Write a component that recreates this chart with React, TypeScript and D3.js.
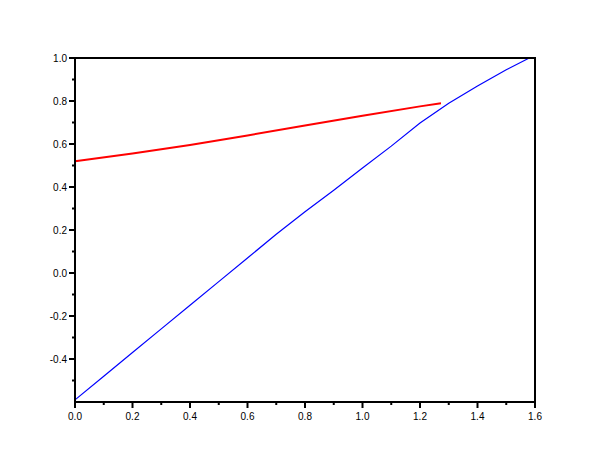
import React from "react";
import * as d3 from "d3";

const blueX = [0, 0.1, 0.2, 0.3, 0.4, 0.5, 0.6, 0.7, 0.8, 0.9, 1.0, 1.1, 1.2, 1.3, 1.4, 1.5, 1.58];
const blueY = [-0.59, -0.48, -0.37, -0.26, -0.15, -0.04, 0.07, 0.18, 0.285, 0.385, 0.488, 0.59, 0.698, 0.79, 0.87, 0.945, 1.0];

const redX = [0, 0.2, 0.4, 0.6, 0.8, 1.0, 1.2, 1.273];
const redY = [0.52, 0.556, 0.595, 0.64, 0.686, 0.731, 0.775, 0.79];

const xMajor = [0, 0.2, 0.4, 0.6, 0.8, 1.0, 1.2, 1.4, 1.6];
const xMinor = [0.1, 0.3, 0.5, 0.7, 0.9, 1.1, 1.3, 1.5];
const yMajor = [-0.4, -0.2, 0.0, 0.2, 0.4, 0.6, 0.8, 1.0];
const yMinor = [-0.5, -0.3, -0.1, 0.1, 0.3, 0.5, 0.7, 0.9];

const W = 610;
const H = 460;
const left = 75;
const right = 535;
const top = 58;
const bottom = 402;

export default function App() {
  const x = d3.scaleLinear().domain([0, 1.6]).range([left, right]);
  const y = d3.scaleLinear().domain([-0.6, 1.0]).range([bottom, top]);

  const line = d3
    .line<[number, number]>()
    .x((d) => x(d[0]))
    .y((d) => y(d[1]));

  const blue = line(blueX.map((v, i) => [v, blueY[i]] as [number, number])) || "";
  const red = line(redX.map((v, i) => [v, redY[i]] as [number, number])) || "";

  const font = "'Liberation Sans', Arial, sans-serif";

  return (
    <svg
      width={W}
      height={H}
      style={{ position: "absolute", left: 0, top: 0, background: "#fff" }}
    >
      <rect x={0} y={0} width={W} height={H} fill="#fff" />
      <path d={red} fill="none" stroke="#ff0000" strokeWidth={2} />
      <path d={blue} fill="none" stroke="#0000ff" strokeWidth={1.2} />
      <rect
        x={left}
        y={top}
        width={right - left}
        height={bottom - top}
        fill="none"
        stroke="#000"
        strokeWidth={2}
      />
      {xMajor.map((v) => (
        <g key={"xM" + v}>
          <line x1={x(v)} x2={x(v)} y1={bottom} y2={bottom + 6} stroke="#000" strokeWidth={2} />
          <text
            x={x(v)}
            y={bottom + 18}
            textAnchor="middle"
            fontFamily={font}
            fontSize={10}
            fill="#000"
          >
            {v.toFixed(1)}
          </text>
        </g>
      ))}
      {xMinor.map((v) => (
        <line key={"xm" + v} x1={x(v)} x2={x(v)} y1={bottom} y2={bottom + 3} stroke="#000" strokeWidth={2} />
      ))}
      {yMajor.map((v) => (
        <g key={"yM" + v}>
          <line x1={left - 6} x2={left} y1={y(v)} y2={y(v)} stroke="#000" strokeWidth={2} />
          <text
            x={left - 8}
            y={y(v) + 3.5}
            textAnchor="end"
            fontFamily={font}
            fontSize={10}
            fill="#000"
          >
            {v.toFixed(1)}
          </text>
        </g>
      ))}
      {yMinor.map((v) => (
        <line key={"ym" + v} x1={left - 3} x2={left} y1={y(v)} y2={y(v)} stroke="#000" strokeWidth={2} />
      ))}
    </svg>
  );
}
